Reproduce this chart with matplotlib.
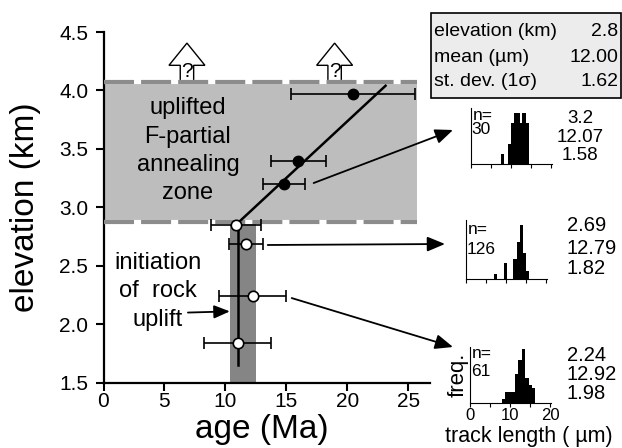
import matplotlib
matplotlib.use('Agg')
from matplotlib import pyplot as plt
from matplotlib.patches import FancyArrow, Rectangle

plt.rcParams['font.family'] = ['Liberation Sans', 'DejaVu Sans']

# fission-track ages vs elevation (Ma, km)
ages_upper = [20.5, 16.0, 14.8]
elev_upper = [3.97, 3.40, 3.20]
err_upper = [5.1, 2.25, 1.7]

ages_lower = [10.86, 11.68, 12.25, 11.02]
elev_lower = [2.85, 2.69, 2.24, 1.84]
err_lower = [2.05, 1.4, 2.75, 2.75]

# regression through upper samples and vertical (fast cooling) line
fit_age = [10.86, 23.15]
fit_elev = [2.85, 4.04]
vert_age = [11.0, 11.0]
vert_elev = [2.85, 1.65]

# zones
paz_age = [0, 25.7]
paz_elev = [2.875, 4.07]
uplift_age = [10.4, 12.5]
q_ages = [6.85, 18.97]

# track length histograms (bin centres in um, counts)
h1_len = [8.0, 9.8, 10.5, 11.2, 11.95, 12.65, 13.35, 14.15]
h1_cnt = [1, 2, 4, 5, 5, 4, 5, 4]
h2_len = [7.45, 9.9, 12.25, 13.1, 13.85, 14.6, 15.35]
h2_cnt = [4, 12, 15, 28, 41, 20, 6]
h3_len = [8.3, 9.15, 9.95, 10.8, 11.65, 12.5, 13.35, 14.2, 15.0, 15.8]
h3_cnt = [1, 3, 3, 3, 8, 12, 15, 7, 5, 4]
hist_n = ['30', '126', '61']
hist_stats = [['3.2', '12.07', '1.58'], ['2.69', '12.79', '1.82'], ['2.24', '12.92', '1.98']]
box_labels = ['elevation (km)', 'mean (\u00b5m)', 'st. dev. (1\u03c3)']
box_values = ['2.8', '12.00', '1.62']

W, H = 622, 448


def fx(px):
    return px / W


def fy(py):
    return 1 - py / H


fig = plt.figure(figsize=(W / 100, H / 100), dpi=100)
ax = fig.add_axes([fx(103.5), fy(382.7), (430 - 103.5) / W, (382.7 - 32) / H])

# shaded zones
ax.fill_between(paz_age, paz_elev[0], paz_elev[1], color='#bdbdbd', lw=0, zorder=1)
ax.fill_between(uplift_age, 1.5, paz_elev[0], color='#858585', lw=0, zorder=1)

# "?" arrows above the PAZ
for qa in q_ages:
    arr = FancyArrow(qa, paz_elev[1], 0, 0.335, width=1.1, head_width=2.95, head_length=0.19,
                     length_includes_head=True, fc='white', ec='black', lw=1.0, zorder=2)
    ax.add_patch(arr)
    ax.text(qa, 4.165, '?', ha='center', va='center', fontsize=15, zorder=3)

# dashed PAZ boundaries
for e in paz_elev:
    ax.plot(paz_age, [e, e], color='white', lw=3, zorder=3, solid_capstyle='butt')
    ax.plot(paz_age, [e, e], color='#8c8c8c', lw=3, dashes=(7.2, 1.7), zorder=3,
            dash_capstyle='butt')

ax.plot(fit_age, fit_elev, color='black', lw=1.8, zorder=4)
ax.plot(vert_age, vert_elev, color='black', lw=1.8, zorder=4)

ax.errorbar(ages_upper, elev_upper, xerr=err_upper, fmt='none', ecolor='black',
            elinewidth=1.2, capsize=4, capthick=1.2, zorder=5)
ax.errorbar(ages_lower, elev_lower, xerr=err_lower, fmt='none', ecolor='black',
            elinewidth=1.2, capsize=4, capthick=1.2, zorder=5)
ax.plot(ages_upper, elev_upper, 'o', ms=7.5, mfc='black', mec='black', zorder=6)
ax.plot(ages_lower, elev_lower, 'o', ms=7.5, mfc='white', mec='black', mew=1.2, zorder=6)

ax.set_xlim(0, 26.8)
ax.set_ylim(1.5, 4.5)
ax.set_xticks([0, 5, 10, 15, 20, 25])
yt = [1.5, 2.0, 2.5, 3.0, 3.5, 4.0, 4.5]
ax.set_yticks(yt)
ax.set_yticklabels([f'{v:.1f}' for v in yt])
for s in ['top', 'right']:
    ax.spines[s].set_visible(False)
for s in ['left', 'bottom']:
    ax.spines[s].set_linewidth(1.6)
ax.tick_params(direction='out', length=6, width=1.5, labelsize=15)
ax.tick_params(axis='x', pad=1)
ax.tick_params(axis='y', pad=5)
ax.set_xlabel('age (Ma)', fontsize=24)
ax.set_ylabel('elevation (km)', fontsize=24)
ax.xaxis.set_label_coords(0.484, -0.088)
ax.yaxis.set_label_coords(-0.192, 0.5)

ax.text(6.93, 3.484, 'uplifted\nF-partial\nannealing\nzone', ha='center', va='center',
        fontsize=17, linespacing=1.38, zorder=7)
ax.text(4.47, 2.284, 'initiation\nof  rock\nuplift', ha='center', va='center',
        fontsize=17, linespacing=1.38, zorder=7)

head = '-|>,head_length=0.6,head_width=0.25'
ax.annotate('', xy=(10.37, 2.11), xytext=(6.93, 2.10),
            arrowprops=dict(arrowstyle=head, color='black', lw=1.3, mutation_scale=16,
                            shrinkA=0, shrinkB=0), zorder=7)

# arrows from samples to their histograms
links = [((17.25, 3.208), (453, 130)), ((13.48, 2.678), (445, 244)), ((15.45, 2.224), (453, 347))]
for start, end in links:
    ax.annotate('', xy=(fx(end[0]), fy(end[1])), xycoords='figure fraction',
                xytext=start, textcoords='data', annotation_clip=False,
                arrowprops=dict(arrowstyle=head, color='black', lw=1.3, mutation_scale=18,
                                shrinkA=0, shrinkB=0), zorder=7)

# summary box
fig.patches.append(Rectangle((fx(431), fy(98)), (621 - 431) / W, (98 - 13) / H,
                             transform=fig.transFigure, fc='#ececec', ec='black', lw=1.2))
for i, (lab, val) in enumerate(zip(box_labels, box_values)):
    yy = fy(32 + 25 * i)
    fig.text(fx(434), yy, lab, ha='left', va='center', fontsize=14)
    fig.text(fx(618), yy, val, ha='right', va='center', fontsize=14)

# histograms
hist_boxes = [(470.7, 164, 56), (466, 279, 59), (470, 402.7, 56)]
hist_data = [(h1_len, h1_cnt, 5.5), (h2_len, h2_cnt, 44.8), (h3_len, h3_cnt, 15.6)]
n_pos = [(115, 130), (230, 249), (353, 371)]
stat_pos = [(580, 'center', [118, 137, 155]), (567, 'left', [225, 248, 268]),
            (567, 'left', [355, 375, 393])]
stat_size = [13.5, 14.5, 14.5]
for k in range(3):
    left, bottom, h = hist_boxes[k]
    hax = fig.add_axes([fx(left), fy(bottom), 81 / W, h / H])
    lens, cnts, top = hist_data[k]
    hax.bar(lens, cnts, width=0.85, color='black', linewidth=0)
    hax.set_xlim(0, 20.25)
    hax.set_ylim(0, top)
    hax.set_yticks([])
    hax.set_xticks([0, 5, 10, 15, 20])
    hax.tick_params(axis='x', direction='out', length=3, width=0.8, labelsize=12, pad=1)
    for s in ['top', 'right']:
        hax.spines[s].set_visible(False)
    for s in ['left', 'bottom']:
        hax.spines[s].set_linewidth(0.8)
    if k == 2:
        hax.set_xticklabels(['0', '', '10', '', '20'])
        hax.set_xlabel('track length ( \u00b5m)', fontsize=15.5)
        hax.xaxis.set_label_coords(0.72, -0.42)
        hax.set_ylabel('freq.', fontsize=16, labelpad=1)
    else:
        hax.set_xticklabels([])
    fig.text(fx(left + 2), fy(n_pos[k][0]), 'n=', ha='left', va='center', fontsize=12.5)
    fig.text(fx(left + 1), fy(n_pos[k][1]), hist_n[k], ha='left', va='center', fontsize=12.5)
    sx, sha, sys_ = stat_pos[k]
    for txt, yy in zip(hist_stats[k], sys_):
        fig.text(fx(sx), fy(yy), txt, ha=sha, va='center', fontsize=stat_size[k])

fig.savefig('out.png', dpi=100)
